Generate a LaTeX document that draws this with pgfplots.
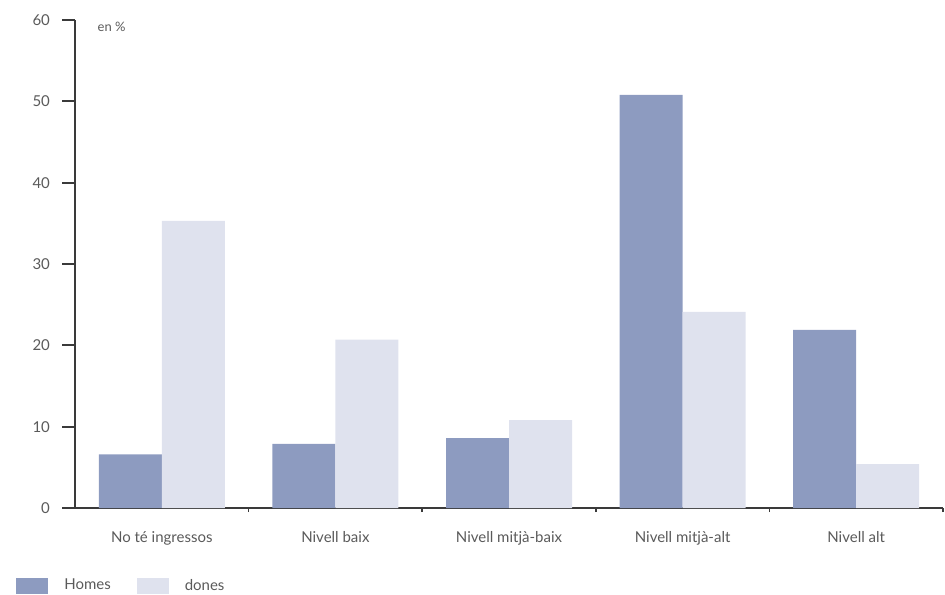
\documentclass[border=0pt]{standalone}
\usepackage{pgfplots}
\pgfplotsset{compat=1.18}
\usepackage{fontspec}
\setmainfont{Lato}
\definecolor{homes}{HTML}{8D9BC0}
\definecolor{dones}{HTML}{DFE2EE}
\definecolor{txt}{HTML}{5A5A5A}
\definecolor{axl}{HTML}{3A3A3A}
\begin{document}
\begin{tikzpicture}
\path[use as bounding box] (-37.5pt,-43pt) rectangle (435pt,254pt);
\begin{axis}[
  at={(0,0)}, anchor=south west,
  scale only axis,
  width=434pt, height=244pt,
  xmin=-0.5, xmax=4.5, ymin=0, ymax=60,
  axis lines*=left,
  axis line style={axl, line width=0.9pt},
  ybar=0pt, bar width=31.5pt,
  xtick={0,1,2,3,4},
  xticklabels={No té ingressos, Nivell baix, Nivell mitjà-baix, Nivell mitjà-alt, Nivell alt},
  major x tick style={draw=none},
  minor xtick={0.5,1.5,2.5,3.5,4.5},
  minor x tick style={axl, line width=0.8pt},
  minor tick length=2pt,
  ytick={0,10,...,60},
  major y tick style={axl, line width=0.9pt},
  major tick length=6.5pt,
  tick align=outside,
  ticklabel style={font=\fontsize{7.5}{9}\selectfont, text=txt},
  xticklabel style={yshift=-1.5pt},
  yticklabel style={xshift=-2.5pt},
  /pgf/number format/assume math mode=true,
  legend style={at={(axis description cs:-0.075,-0.16)}, anchor=west, draw=none, fill=none,
    font=\fontsize{7.5}{9}\selectfont, text=txt, legend columns=2,
    /tikz/every odd column/.append style={column sep=6pt},
    /tikz/every even column/.append style={column sep=11pt}},
  legend image code/.code={\fill[#1] (0pt,-4pt) rectangle (16pt,4pt);},
  clip=false,
]
\addplot[fill=homes, draw=none] coordinates {(0,6.6) (1,7.9) (2,8.6) (3,50.8) (4,21.9)};
\addplot[fill=dones, draw=none] coordinates {(0,35.3) (1,20.7) (2,10.8) (3,24.1) (4,5.4)};
\legend{Homes, dones}
\node[anchor=west, font=\fontsize{6.5}{8}\selectfont, text=txt] at (axis description cs:0.018,0.985) {en \%};
\end{axis}
\end{tikzpicture}
\end{document}
